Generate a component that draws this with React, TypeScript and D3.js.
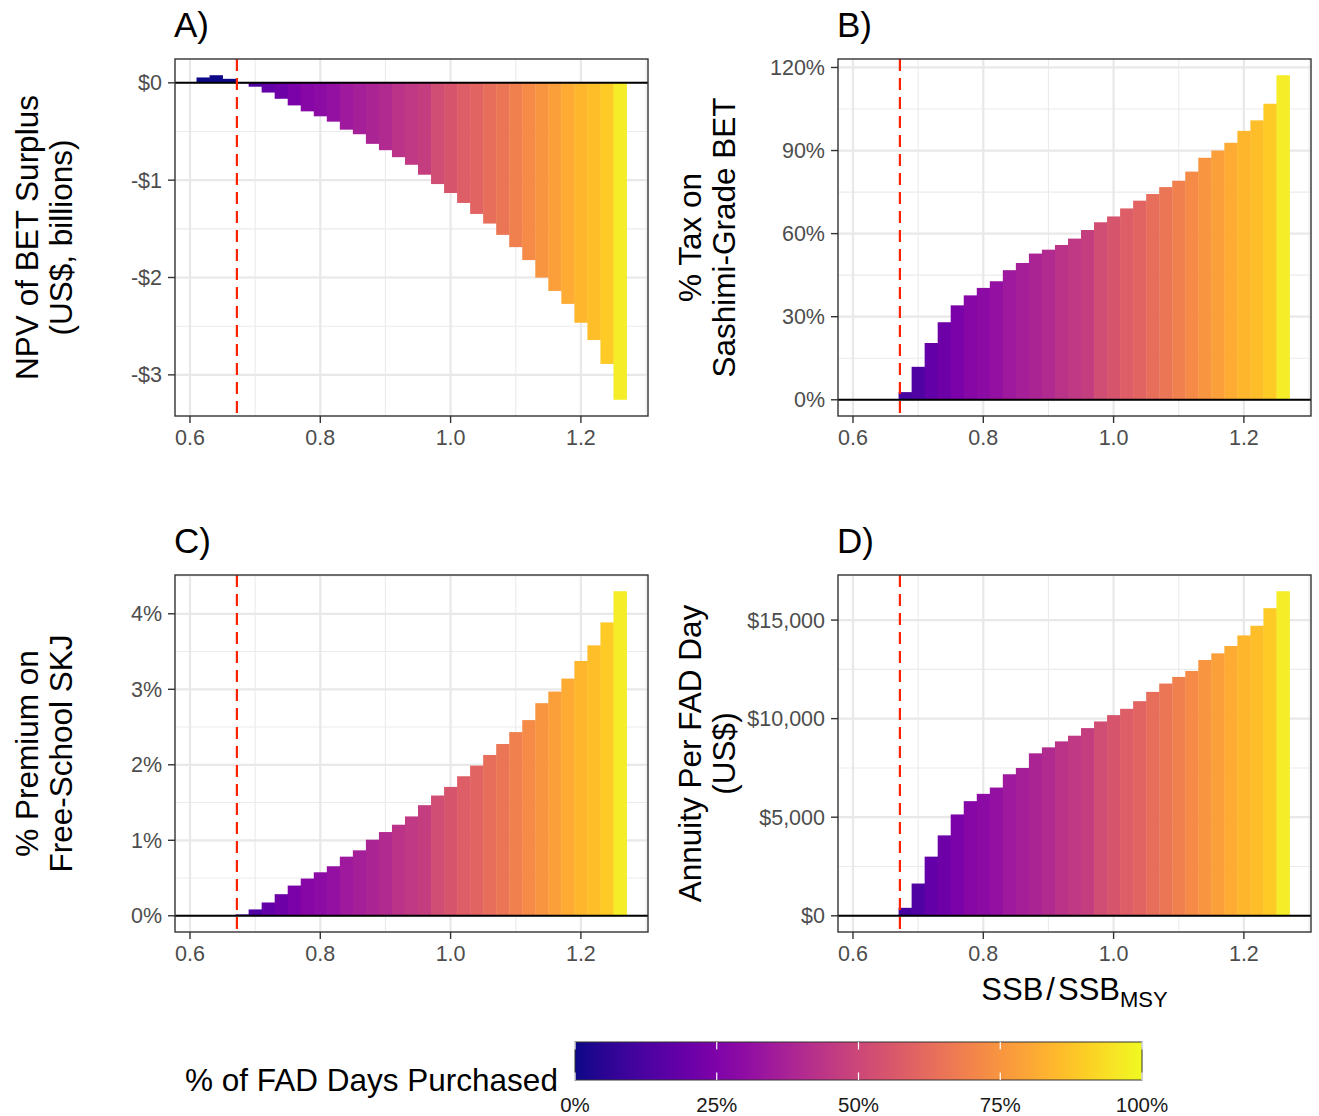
import React from "react";
import * as d3 from "d3";

// ---------- data ----------
const ssbRatio = [
  0.62, 0.64, 0.66, 0.68, 0.70, 0.72, 0.74, 0.76, 0.78, 0.80, 0.82,
  0.84, 0.86, 0.88, 0.90, 0.92, 0.94, 0.96, 0.98, 1.00, 1.02, 1.04,
  1.06, 1.08, 1.10, 1.12, 1.14, 1.16, 1.18, 1.20, 1.22, 1.24, 1.26,
];
const barWidth = 0.02;
const currentSSB = 0.672;

// NPV of BET surplus (US$, billions)
const npvBillions = [
  0.055, 0.078, 0.041, -0.005, -0.04, -0.10, -0.164, -0.232, -0.293, -0.344, -0.399,
  -0.481, -0.528, -0.627, -0.692, -0.764, -0.842, -0.944, -1.04, -1.132, -1.234, -1.347,
  -1.446, -1.562, -1.688, -1.821, -2.001, -2.138, -2.271, -2.465, -2.642, -2.888, -3.256,
];
// % tax on sashimi-grade BET
const taxPct = [
  0, 0, 0, 2.76, 11.9, 20.5, 28.0, 34.1, 37.7, 40.4, 42.8,
  46.8, 49.4, 52.8, 54.2, 55.9, 58.2, 61.3, 64.1, 66.2, 69.1, 71.9,
  74.3, 76.8, 79.1, 82.4, 87.4, 90.0, 92.8, 97.1, 100.9, 106.9, 117.2,
];
// % premium on free-school SKJ
const premiumPct = [
  0, 0, 0, 0.018, 0.084, 0.176, 0.286, 0.4, 0.493, 0.576, 0.656,
  0.783, 0.867, 1.008, 1.109, 1.206, 1.316, 1.465, 1.593, 1.707, 1.848, 1.989,
  2.13, 2.275, 2.433, 2.592, 2.816, 2.97, 3.142, 3.375, 3.582, 3.886, 4.299,
];
// Annuity per FAD day (US$)
const annuityUSD = [
  0, 0, 0, 404, 1635, 3000, 4078, 5140, 5814, 6185, 6505,
  7179, 7499, 8241, 8544, 8847, 9134, 9521, 9858, 10179, 10499, 10886,
  11358, 11780, 12117, 12420, 12976, 13313, 13684, 14223, 14712, 15605, 16464,
];
// % of FAD days purchased (fill)
const fadPurchased = [
  0, 0, 0, 0.11, 0.14, 0.18, 0.21, 0.24, 0.27, 0.29, 0.31,
  0.34, 0.36, 0.38, 0.40, 0.43, 0.45, 0.47, 0.52, 0.55, 0.58, 0.60,
  0.63, 0.66, 0.69, 0.72, 0.75, 0.78, 0.81, 0.84, 0.86, 0.89, 0.97,
];

const xBreaks = [0.6, 0.8, 1.0, 1.2];
const ticksA = [-3, -2, -1, 0];
const ticksB = [0, 30, 60, 90, 120];
const ticksC = [0, 1, 2, 3, 4];
const ticksD = [0, 5000, 10000, 15000];
const legendBreaks = [0, 0.25, 0.5, 0.75, 1];

// ---------- style ----------
const FONT = "'Liberation Sans', Arial, Helvetica, sans-serif";
const W = 1319;
const H = 1116;
const PW = 473;
const PH = 357;

const xMin = d3.min(ssbRatio)! - barWidth / 2;
const xMax = d3.max(ssbRatio)! + barWidth / 2;
const xPad = (xMax - xMin) * 0.05;

const color = (v: number) => d3.interpolatePlasma(v);

function minorBreaks(major: number[]): number[] {
  const step = major[1] - major[0];
  const out: number[] = [];
  out.push(major[0] - step / 2);
  for (let i = 0; i < major.length - 1; i++) out.push((major[i] + major[i + 1]) / 2);
  out.push(major[major.length - 1] + step / 2);
  return out;
}

type PanelProps = {
  left: number;
  top: number;
  label: string;
  values: number[];
  yTicks: number[];
  fmt: (v: number) => string;
  yTitle: string[];
  xTitle?: boolean;
};

function Panel({ left, top, label, values, yTicks, fmt, yTitle, xTitle }: PanelProps) {
  const x = d3.scaleLinear().domain([xMin - xPad, xMax + xPad]).range([left, left + PW]);
  const lo = Math.min(0, d3.min(values)!);
  const hi = Math.max(0, d3.max(values)!);
  const yPad = (hi - lo) * 0.05;
  const y = d3.scaleLinear().domain([lo - yPad, hi + yPad]).range([top + PH, top]);
  const [y0, y1] = y.domain();
  const [x0, x1] = x.domain();
  const xMinor = [0.5, 0.7, 0.9, 1.1, 1.3].filter((v) => v >= x0 && v <= x1);
  const yMinor = minorBreaks(yTicks).filter((v) => v >= y0 && v <= y1);
  const bottom = top + PH;
  const cy = top + PH / 2;
  return (
    <g>
      <rect x={left} y={top} width={PW} height={PH} fill="#ffffff" />
      {xMinor.map((v) => (
        <line key={"xm" + v} x1={x(v)} x2={x(v)} y1={top} y2={bottom} stroke="#ebebeb" strokeWidth={1.1} />
      ))}
      {yMinor.map((v) => (
        <line key={"ym" + v} x1={left} x2={left + PW} y1={y(v)} y2={y(v)} stroke="#ebebeb" strokeWidth={1.1} />
      ))}
      {xBreaks.map((v) => (
        <line key={"xM" + v} x1={x(v)} x2={x(v)} y1={top} y2={bottom} stroke="#e8e8e8" strokeWidth={2.2} />
      ))}
      {yTicks.map((v) => (
        <line key={"yM" + v} x1={left} x2={left + PW} y1={y(v)} y2={y(v)} stroke="#e8e8e8" strokeWidth={2.2} />
      ))}
      {values.map((v, i) => {
        const xl = x(ssbRatio[i] - barWidth / 2);
        const xr = x(ssbRatio[i] + barWidth / 2);
        const ya = y(Math.max(0, v));
        const yb = y(Math.min(0, v));
        return (
          <rect
            key={"b" + i}
            x={xl}
            y={ya}
            width={xr - xl + 0.4}
            height={Math.max(0, yb - ya)}
            fill={color(fadPurchased[i])}
          />
        );
      })}
      <line x1={left} x2={left + PW} y1={y(0)} y2={y(0)} stroke="#000000" strokeWidth={2} />
      <line
        x1={x(currentSSB)}
        x2={x(currentSSB)}
        y1={top}
        y2={bottom}
        stroke="#ff2200"
        strokeWidth={2.2}
        strokeDasharray="12,7"
      />
      <rect x={left} y={top} width={PW} height={PH} fill="none" stroke="#333333" strokeWidth={1.4} />
      {/* y axis */}
      {yTicks.map((v) => (
        <g key={"yt" + v}>
          <line x1={left - 7} x2={left} y1={y(v)} y2={y(v)} stroke="#333333" strokeWidth={1.4} />
          <text
            x={left - 13}
            y={y(v)}
            dy="0.35em"
            textAnchor="end"
            fontSize={21.5}
            fontFamily={FONT}
            fill="#4d4d4d"
          >
            {fmt(v)}
          </text>
        </g>
      ))}
      {/* x axis */}
      {xBreaks.map((v) => (
        <g key={"xt" + v}>
          <line x1={x(v)} x2={x(v)} y1={bottom} y2={bottom + 7} stroke="#333333" strokeWidth={1.4} />
          <text x={x(v)} y={bottom + 29} textAnchor="middle" fontSize={21.5} fontFamily={FONT} fill="#4d4d4d">
            {d3.format(".1f")(v)}
          </text>
        </g>
      ))}
      <text x={left - 1} y={top - 22} fontSize={35} fontFamily={FONT} fill="#000000">
        {label}
      </text>
      <text transform={`translate(${left - 137},${cy}) rotate(-90)`} fontSize={31.5} fontFamily={FONT} fill="#000000" textAnchor="middle">
        <tspan x={0} y={0}>{yTitle[0]}</tspan>
        <tspan x={0} y={34}>{yTitle[1]}</tspan>
      </text>
      {xTitle && (
        <text x={left + PW / 2} y={bottom + 68} textAnchor="middle" fontSize={31} fontFamily={FONT} fill="#000000">
          <tspan>SSB</tspan>
          <tspan dx={3}>/</tspan>
          <tspan dx={3}>SSB</tspan>
          <tspan fontSize={22} dy={7}>MSY</tspan>
        </text>
      )}
    </g>
  );
}

function Legend() {
  const lx = 575;
  const ly = 1042;
  const lw = 567;
  const lh = 38;
  const s = d3.scaleLinear().domain([0, 1]).range([lx, lx + lw]);
  const stops = d3.range(0, 1.0001, 0.05);
  return (
    <g>
      <defs>
        <linearGradient id="plasmaGrad" x1="0" x2="1" y1="0" y2="0">
          {stops.map((t) => (
            <stop key={t} offset={t} stopColor={color(t)} />
          ))}
        </linearGradient>
      </defs>
      <text x={185} y={1091} fontSize={31.5} fontFamily={FONT} fill="#000000">
        % of FAD Days Purchased
      </text>
      <rect x={lx} y={ly} width={lw} height={lh} fill="url(#plasmaGrad)" stroke="#333333" strokeWidth={1} />
      {legendBreaks.map((b) => (
        <g key={b}>
          <line x1={s(b)} x2={s(b)} y1={ly} y2={ly + lh / 5} stroke="#ffffff" strokeWidth={1.2} />
          <line x1={s(b)} x2={s(b)} y1={ly + lh - lh / 5} y2={ly + lh} stroke="#ffffff" strokeWidth={1.2} />
          <text x={s(b)} y={1112} textAnchor="middle" fontSize={20.5} fontFamily={FONT} fill="#1a1a1a">
            {d3.format(".0%")(b)}
          </text>
        </g>
      ))}
    </g>
  );
}

export default function App() {
  const fmtA = (v: number) => (v === 0 ? "$0" : v < 0 ? "-$" + -v : "$" + v);
  const fmtPct = (v: number) => v + "%";
  const fmtD = (v: number) => "$" + d3.format(",")(v);
  return (
    <svg
      width={W}
      height={H}
      style={{ position: "absolute", left: 0, top: 0, background: "#ffffff" }}
    >
      <rect x={0} y={0} width={W} height={H} fill="#ffffff" />
      <Panel left={175} top={59} label="A)" values={npvBillions} yTicks={ticksA} fmt={fmtA}
        yTitle={["NPV of BET Surplus", "(US$, billions)"]} />
      <Panel left={838} top={59} label="B)" values={taxPct} yTicks={ticksB} fmt={fmtPct}
        yTitle={["% Tax on", "Sashimi-Grade BET"]} />
      <Panel left={175} top={575} label="C)" values={premiumPct} yTicks={ticksC} fmt={fmtPct}
        yTitle={["% Premium on", "Free-School SKJ"]} />
      <Panel left={838} top={575} label="D)" values={annuityUSD} yTicks={ticksD} fmt={fmtD}
        yTitle={["Annuity Per FAD Day", "(US$)"]} xTitle />
      <Legend />
    </svg>
  );
}
